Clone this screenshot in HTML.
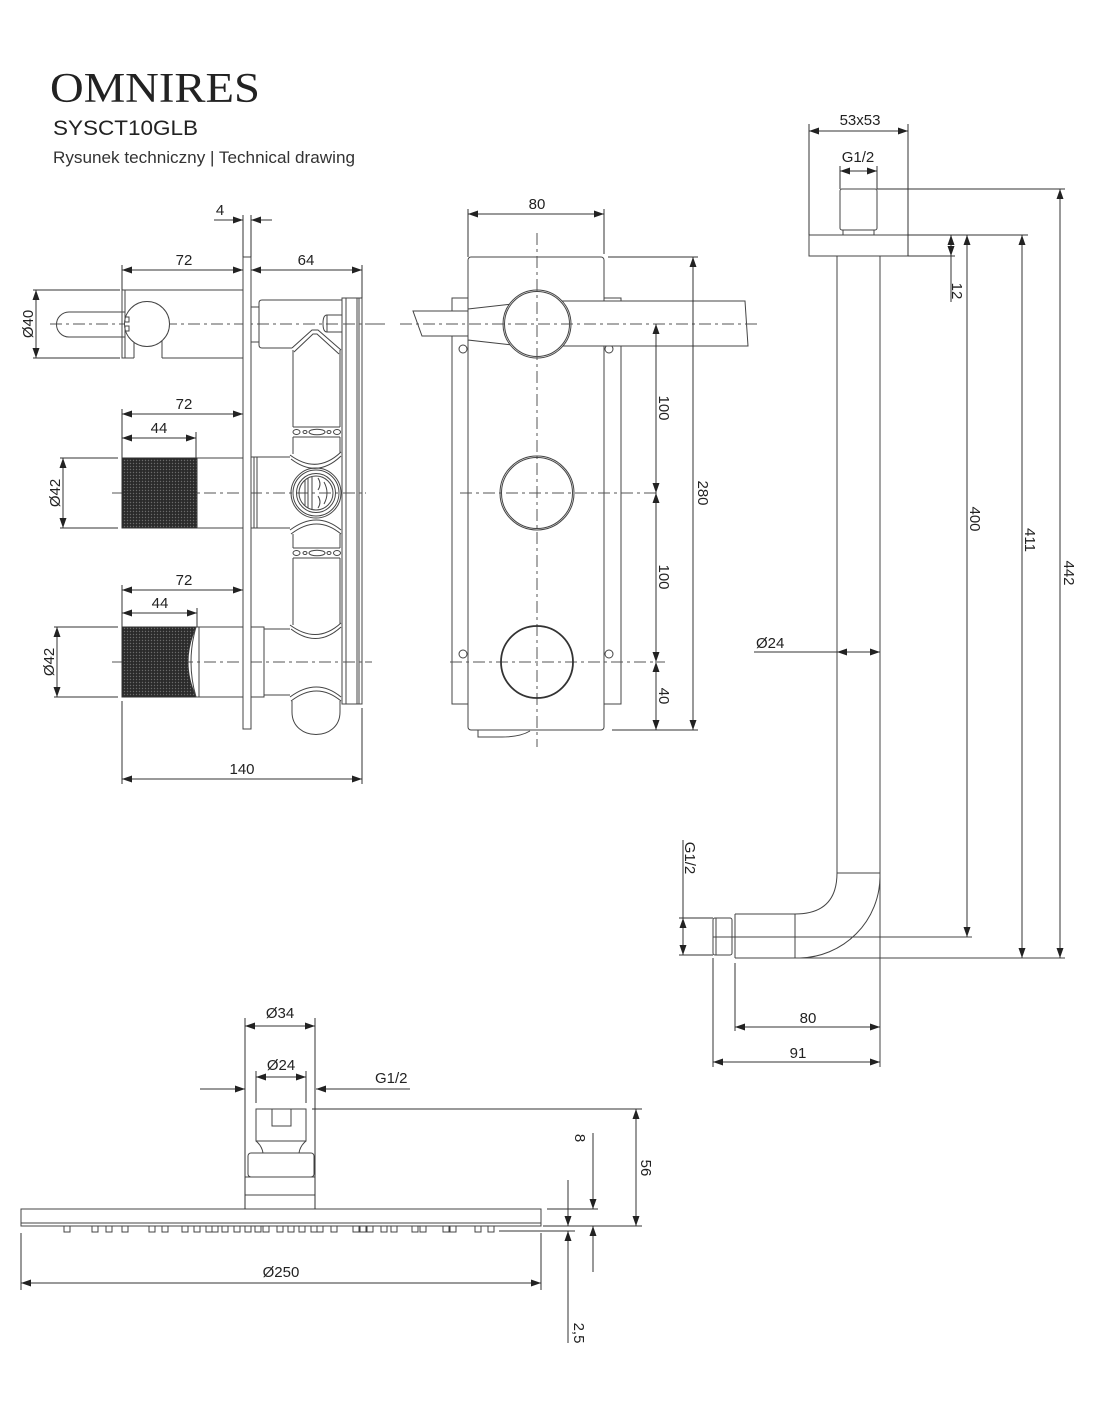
<!DOCTYPE html>
<html><head><meta charset="utf-8">
<style>
html,body{margin:0;padding:0;background:#fff;}
svg{display:block}
text{font-family:"Liberation Sans",sans-serif;fill:#222;font-size:15px;}
</style></head><body>
<svg width="1100" height="1422" viewBox="0 0 1100 1422" xmlns="http://www.w3.org/2000/svg">
<defs>
<marker id="a" viewBox="0 0 10 7" refX="10" refY="3.5" markerWidth="10" markerHeight="7" markerUnits="userSpaceOnUse" orient="auto-start-reverse"><path d="M0,0L10,3.5L0,7z" fill="#222"/></marker>
<pattern id="k" width="3" height="3" patternUnits="userSpaceOnUse"><rect width="3" height="3" fill="#2a2a2a"/><circle cx="1.5" cy="1.5" r="0.7" fill="#6a6a6a"/></pattern>
</defs>
<rect width="1100" height="1422" fill="#fff"/>

<!-- Header -->
<text x="50" y="102" style="font-family:'Liberation Serif',serif;font-size:42px" textLength="210" lengthAdjust="spacingAndGlyphs">OMNIRES</text>
<text x="53" y="135" style="font-size:21px" textLength="145" lengthAdjust="spacingAndGlyphs">SYSCT10GLB</text>
<text x="53" y="163" style="font-size:17px;fill:#333" textLength="302" lengthAdjust="spacingAndGlyphs">Rysunek techniczny | Technical drawing</text>

<!-- ================= SIDE VIEW ================= -->
<g stroke="#444" stroke-width="1" fill="none">
 <!-- centerlines -->
 <g stroke="#555" stroke-dasharray="12,4,3,4">
  <line x1="50" y1="324" x2="385" y2="324"/>
  <line x1="112" y1="493" x2="366" y2="493"/>
  <line x1="112" y1="662" x2="372" y2="662"/>
 </g>

 <!-- top handle -->
 <path d="M243,290 H122 V358 H134 M162,358 H243"/>
 <line x1="125" y1="290" x2="125" y2="358"/>
 <path d="M125,312 H69 A12.5,12.5 0 0 0 69,337 H125"/>
 <circle cx="147" cy="324" r="22.5" fill="#fff"/>
 <line x1="134" y1="342" x2="134" y2="358"/>
 <line x1="162" y1="341" x2="162" y2="358"/>
 <rect x="125" y="317" width="4" height="5"/>
 <rect x="125" y="326" width="4" height="5"/>

 <!-- middle handle -->
 <rect x="122" y="458" width="75" height="70" fill="url(#k)" stroke="#333"/>
 <path d="M197,458 H243 M197,528 H243"/>
 <rect x="251" y="457" width="6" height="71"/>
 <line x1="254" y1="457" x2="254" y2="528"/>
 <path d="M257,457 H290 M257,528 H290"/>

 <!-- bottom handle -->
 <path d="M122,627 H196 Q180,662 196,697 H122 Z" fill="url(#k)" stroke="#333"/>
 <path d="M196,627 Q186,662 196,697"/>
 <line x1="199" y1="627" x2="199" y2="697"/>
 <path d="M196,627 H264 V697 H196"/>
 <path d="M264,629 H290 M264,695 H290"/>

 <!-- wall plate -->
 <rect x="243" y="257" width="8" height="472" fill="#fff"/>

 <!-- body top -->
 <rect x="251" y="307" width="8" height="35"/>
 <path d="M342,300 H262 Q259,300 259,303 V345 Q259,348 262,348 H292"/>
 <path d="M342,315 H327 Q323,315 323,323.5 Q323,332 327,332 H342"/>
 <line x1="327" y1="315" x2="327" y2="332"/>
 <path d="M292,348 L312,330 L318,330 L341,350"/>
 <path d="M294,352 L313,334 L317,334 L339,354"/>
 <!-- tube -->
 <path d="M293,350 V427 M340,350 V427"/>
 <path d="M293,427 H340 M293,437 H340"/>
 <ellipse cx="296.5" cy="432" rx="3.5" ry="2.5"/>
 <ellipse cx="317" cy="432" rx="8" ry="2.8"/>
 <ellipse cx="337" cy="432" rx="3.5" ry="2.5"/>
 <ellipse cx="305" cy="432" rx="2" ry="1.5"/>
 <ellipse cx="329" cy="432" rx="2" ry="1.5"/>
 <path d="M293,437 V454 M340,437 V453"/>
 <path d="M290,455 Q317,475 341,452"/>
 <path d="M291,459 Q317,479 341,456"/>
 <!-- middle valve -->
 <circle cx="316" cy="493" r="25"/>
 <circle cx="316" cy="493" r="23"/>
 <circle cx="316" cy="493" r="19.5"/>
 <circle cx="316" cy="493" r="17"/>
 <path d="M305,480 V506 M308,478 V508 M312,477 V509"/>
 <path d="M318,478 Q322,484 318,490 M318,496 Q322,502 318,508"/>
 <path d="M324,482 Q330,493 324,504"/>
 <!-- arch below middle -->
 <path d="M290,530 Q317,510 341,530"/>
 <path d="M291,534 Q317,514 341,534"/>
 <path d="M293,534 V548 M340,534 V548"/>
 <path d="M293,548 H340 M293,558 H340"/>
 <ellipse cx="296.5" cy="553" rx="3.5" ry="2.5"/>
 <ellipse cx="317" cy="553" rx="8" ry="2.8"/>
 <ellipse cx="337" cy="553" rx="3.5" ry="2.5"/>
 <ellipse cx="305" cy="553" rx="2" ry="1.5"/>
 <ellipse cx="329" cy="553" rx="2" ry="1.5"/>
 <path d="M293,558 V625 M340,558 V624"/>
 <path d="M290,625 Q317,645 341,623"/>
 <path d="M291,629 Q317,649 341,627"/>
 <!-- bottom lobe -->
 <path d="M290,697 Q317,677 341,697"/>
 <path d="M291,701 Q317,681 341,701"/>
 <path d="M292,701 V712 C292,742 340,742 340,712 V701"/>

 <!-- back plate -->
 <rect x="342" y="298" width="20" height="406" fill="#fff"/>
 <path d="M346,298 V704 M357,298 V704 M359,298 V704"/>
 <line x1="343" y1="662" x2="372" y2="662" stroke="#555" stroke-dasharray="12,4,3,4"/>
 <line x1="343" y1="493" x2="366" y2="493" stroke="#555" stroke-dasharray="12,4,3,4"/>
 <line x1="343" y1="324" x2="385" y2="324" stroke="#555" stroke-dasharray="12,4,3,4"/>
</g>

<!-- side view dims -->
<g stroke="#333" stroke-width="1" fill="none">
 <line x1="214" y1="220" x2="243" y2="220" marker-end="url(#a)"/>
 <line x1="272" y1="220" x2="251" y2="220" marker-end="url(#a)"/>
 <line x1="243" y1="215" x2="243" y2="257"/>
 <line x1="251" y1="215" x2="251" y2="257"/>
 <line x1="122" y1="270" x2="243" y2="270" marker-start="url(#a)" marker-end="url(#a)"/>
 <line x1="251" y1="270" x2="362" y2="270" marker-start="url(#a)" marker-end="url(#a)"/>
 <line x1="122" y1="265" x2="122" y2="290"/>
 <line x1="362" y1="265" x2="362" y2="298"/>
 <line x1="36" y1="290" x2="36" y2="358" marker-start="url(#a)" marker-end="url(#a)"/>
 <path d="M33,290 H120 M33,358 H120"/>

 <line x1="122" y1="414" x2="243" y2="414" marker-start="url(#a)" marker-end="url(#a)"/>
 <line x1="122" y1="438" x2="196" y2="438" marker-start="url(#a)" marker-end="url(#a)"/>
 <line x1="122" y1="409" x2="122" y2="458"/>
 <line x1="196" y1="432" x2="196" y2="458"/>
 <line x1="63" y1="458" x2="63" y2="528" marker-start="url(#a)" marker-end="url(#a)"/>
 <path d="M60,458 H118 M60,528 H118"/>

 <line x1="122" y1="590" x2="243" y2="590" marker-start="url(#a)" marker-end="url(#a)"/>
 <line x1="122" y1="613" x2="197" y2="613" marker-start="url(#a)" marker-end="url(#a)"/>
 <line x1="122" y1="585" x2="122" y2="627"/>
 <line x1="197" y1="608" x2="197" y2="627"/>
 <line x1="57" y1="627" x2="57" y2="697" marker-start="url(#a)" marker-end="url(#a)"/>
 <path d="M54,627 H118 M54,697 H118"/>

 <line x1="122" y1="779" x2="362" y2="779" marker-start="url(#a)" marker-end="url(#a)"/>
 <line x1="122" y1="701" x2="122" y2="784"/>
 <line x1="362" y1="708" x2="362" y2="784"/>
</g>
<text x="220" y="215" text-anchor="middle">4</text>
<text x="184" y="265" text-anchor="middle">72</text>
<text x="306" y="265" text-anchor="middle">64</text>
<text transform="translate(33,324) rotate(-90)" text-anchor="middle">Ø40</text>
<text x="184" y="409" text-anchor="middle">72</text>
<text x="159" y="433" text-anchor="middle">44</text>
<text transform="translate(60,493) rotate(-90)" text-anchor="middle">Ø42</text>
<text x="184" y="585" text-anchor="middle">72</text>
<text x="160" y="608" text-anchor="middle">44</text>
<text transform="translate(54,662) rotate(-90)" text-anchor="middle">Ø42</text>
<text x="242" y="774" text-anchor="middle">140</text>

<!-- ================= FRONT VIEW ================= -->
<g stroke="#444" stroke-width="1" fill="none">
 <rect x="452" y="298" width="169" height="406"/>
 <rect x="468" y="257" width="136" height="473" rx="3" fill="#fff"/>
 <path d="M478,730 V737 H502 Q520,737 530,731" />
 <circle cx="463" cy="349" r="4"/>
 <circle cx="609" cy="349" r="4"/>
 <circle cx="463" cy="654" r="4"/>
 <circle cx="609" cy="654" r="4"/>
 <g stroke="#555" stroke-dasharray="12,4,3,4">
  <line x1="537" y1="233" x2="537" y2="747"/>
  <line x1="460" y1="493" x2="660" y2="493"/>
  <line x1="450" y1="662" x2="665" y2="662"/>
 </g>
 <polygon points="413,311 470,311 470,336 422,336" fill="#fff"/>
 <polygon points="468,309 512,304 512,345 468,340" fill="#fff"/>
 <polygon points="560,301 745,301 748,346 560,346" fill="#fff"/>
 <circle cx="537" cy="324" r="34" fill="#fff"/>
 <circle cx="537" cy="324" r="32.5"/>
 <line x1="400" y1="324" x2="760" y2="324" stroke="#555" stroke-dasharray="12,4,3,4"/>
 <line x1="537" y1="233" x2="537" y2="360" stroke="#555" stroke-dasharray="12,4,3,4"/>
 <circle cx="537" cy="493" r="37" fill="none"/>
 <circle cx="537" cy="493" r="35.5"/>
 <circle cx="537" cy="662" r="36" stroke-width="1.8" stroke="#333"/>
</g>
<g stroke="#333" stroke-width="1" fill="none">
 <line x1="468" y1="214" x2="604" y2="214" marker-start="url(#a)" marker-end="url(#a)"/>
 <line x1="468" y1="209" x2="468" y2="257"/>
 <line x1="604" y1="209" x2="604" y2="254"/>
 <line x1="656" y1="324" x2="656" y2="493" marker-start="url(#a)" marker-end="url(#a)"/>
 <line x1="656" y1="493" x2="656" y2="662" marker-start="url(#a)" marker-end="url(#a)"/>
 <line x1="656" y1="662" x2="656" y2="730" marker-start="url(#a)" marker-end="url(#a)"/>
 <line x1="693" y1="257" x2="693" y2="730" marker-start="url(#a)" marker-end="url(#a)"/>
 <path d="M608,257 H698 M612,730 H698"/>
</g>
<text x="537" y="209" text-anchor="middle">80</text>
<text transform="translate(659,408) rotate(90)" text-anchor="middle">100</text>
<text transform="translate(659,577) rotate(90)" text-anchor="middle">100</text>
<text transform="translate(659,696) rotate(90)" text-anchor="middle">40</text>
<text transform="translate(698,493) rotate(90)" text-anchor="middle">280</text>

<!-- ================= PIPE VIEW ================= -->
<g stroke="#444" stroke-width="1" fill="none">
 <rect x="840" y="189" width="37" height="41" rx="2"/>
 <rect x="843" y="230" width="31" height="5"/>
 <rect x="809" y="235" width="99" height="21"/>
 <line x1="837" y1="256" x2="837" y2="873"/>
 <line x1="880" y1="256" x2="880" y2="1067"/>
 <line x1="837" y1="873" x2="880" y2="873"/>
 <path d="M837,873 Q837,914 795,914"/>
 <path d="M880,877 A82,82 0 0 1 800,958"/>
 <path d="M735,914 H795 V958 M735,914 V958 M735,958 H1065"/>
 <rect x="713" y="918" width="19" height="37" rx="2"/>
 <line x1="716" y1="918" x2="716" y2="955"/>
 <line x1="713" y1="937" x2="972" y2="937" stroke="#444"/>
</g>
<g stroke="#333" stroke-width="1" fill="none">
 <line x1="809" y1="131" x2="908" y2="131" marker-start="url(#a)" marker-end="url(#a)"/>
 <line x1="809" y1="124" x2="809" y2="235"/>
 <line x1="908" y1="124" x2="908" y2="256"/>
 <line x1="840" y1="171" x2="877" y2="171" marker-start="url(#a)" marker-end="url(#a)"/>
 <line x1="840" y1="166" x2="840" y2="189"/>
 <line x1="877" y1="166" x2="877" y2="189"/>
 <path d="M877,189 H1065 M908,235 H1028 M908,256 H955"/>
 <line x1="951" y1="235" x2="951" y2="256" marker-start="url(#a)" marker-end="url(#a)"/>
 <line x1="951" y1="256" x2="951" y2="302"/>
 <line x1="967" y1="235" x2="967" y2="937" marker-start="url(#a)" marker-end="url(#a)"/>
 <line x1="1022" y1="235" x2="1022" y2="958" marker-start="url(#a)" marker-end="url(#a)"/>
 <line x1="1060" y1="189" x2="1060" y2="958" marker-start="url(#a)" marker-end="url(#a)"/>
 <line x1="754" y1="652" x2="880" y2="652"/>
 <line x1="850" y1="652" x2="837" y2="652" marker-end="url(#a)"/>
 <line x1="866" y1="652" x2="880" y2="652" marker-end="url(#a)"/>
 <line x1="683" y1="840" x2="683" y2="918"/>
 <line x1="683" y1="918" x2="683" y2="955" marker-start="url(#a)" marker-end="url(#a)"/>
 <path d="M679,918 H713 M679,955 H713"/>
 <line x1="735" y1="1027" x2="880" y2="1027" marker-start="url(#a)" marker-end="url(#a)"/>
 <line x1="735" y1="963" x2="735" y2="1031"/>
 <line x1="713" y1="1062" x2="880" y2="1062" marker-start="url(#a)" marker-end="url(#a)"/>
 <line x1="713" y1="958" x2="713" y2="1067"/>
</g>
<text x="860" y="125" text-anchor="middle">53x53</text>
<text x="858" y="162" text-anchor="middle">G1/2</text>
<text transform="translate(952,291) rotate(90)" text-anchor="middle">12</text>
<text transform="translate(970,519) rotate(90)" text-anchor="middle">400</text>
<text transform="translate(1025,540) rotate(90)" text-anchor="middle">411</text>
<text transform="translate(1064,573) rotate(90)" text-anchor="middle">442</text>
<text x="756" y="648">Ø24</text>
<text transform="translate(685,858) rotate(90)" text-anchor="middle">G1/2</text>
<text x="808" y="1023" text-anchor="middle">80</text>
<text x="798" y="1058" text-anchor="middle">91</text>

<!-- ================= SHOWER HEAD ================= -->
<g stroke="#444" stroke-width="1" fill="none">
 <rect x="256" y="1109" width="50" height="32"/>
 <rect x="272" y="1109" width="19" height="17"/>
 <path d="M256,1141 Q262,1146 263,1153 M306,1141 Q300,1146 299,1153"/>
 <rect x="248" y="1153" width="66" height="24" rx="3"/>
 <path d="M245,1177 H315 M245,1195 H315"/>
 <rect x="21" y="1209" width="520" height="17"/>
 <line x1="21" y1="1223" x2="541" y2="1223"/>
 <g>
  <rect x="64" y="1226" width="6" height="6"/><rect x="92" y="1226" width="6" height="6"/>
  <rect x="106" y="1226" width="6" height="6"/><rect x="122" y="1226" width="6" height="6"/>
  <rect x="149" y="1226" width="6" height="6"/><rect x="162" y="1226" width="6" height="6"/>
  <rect x="182" y="1226" width="6" height="6"/><rect x="194" y="1226" width="6" height="6"/>
  <rect x="206" y="1226" width="6" height="6"/><rect x="212" y="1226" width="6" height="6"/>
  <rect x="222" y="1226" width="6" height="6"/><rect x="234" y="1226" width="6" height="6"/>
  <rect x="245" y="1226" width="6" height="6"/><rect x="255" y="1226" width="6" height="6"/>
  <rect x="263" y="1226" width="6" height="6"/><rect x="277" y="1226" width="6" height="6"/>
  <rect x="288" y="1226" width="6" height="6"/><rect x="299" y="1226" width="6" height="6"/>
  <rect x="311" y="1226" width="6" height="6"/><rect x="317" y="1226" width="6" height="6"/>
  <rect x="331" y="1226" width="6" height="6"/><rect x="353" y="1226" width="6" height="6"/>
  <rect x="360" y="1226" width="6" height="6"/><rect x="367" y="1226" width="6" height="6"/>
  <rect x="381" y="1226" width="6" height="6"/><rect x="391" y="1226" width="6" height="6"/>
  <rect x="412" y="1226" width="6" height="6"/><rect x="420" y="1226" width="6" height="6"/>
  <rect x="443" y="1226" width="6" height="6"/><rect x="450" y="1226" width="6" height="6"/>
  <rect x="475" y="1226" width="6" height="6"/><rect x="488" y="1226" width="6" height="6"/>
 </g>
</g>
<g stroke="#333" stroke-width="1" fill="none">
 <line x1="245" y1="1026" x2="315" y2="1026" marker-start="url(#a)" marker-end="url(#a)"/>
 <line x1="245" y1="1018" x2="245" y2="1209"/>
 <line x1="315" y1="1018" x2="315" y2="1209"/>
 <line x1="256" y1="1077" x2="306" y2="1077" marker-start="url(#a)" marker-end="url(#a)"/>
 <line x1="256" y1="1071" x2="256" y2="1103"/>
 <line x1="306" y1="1071" x2="306" y2="1103"/>
 <line x1="200" y1="1089" x2="245" y2="1089" marker-end="url(#a)"/>
 <line x1="410" y1="1089" x2="316" y2="1089" marker-end="url(#a)"/>
 <line x1="312" y1="1109" x2="642" y2="1109"/>
 <path d="M547,1209 H598 M543,1226 H642 M499,1231 H575"/>
 <line x1="636" y1="1109" x2="636" y2="1226" marker-start="url(#a)" marker-end="url(#a)"/>
 <line x1="593" y1="1133" x2="593" y2="1209" marker-end="url(#a)"/>
 <line x1="593" y1="1272" x2="593" y2="1226" marker-end="url(#a)"/>
 <line x1="568" y1="1180" x2="568" y2="1226" marker-end="url(#a)"/>
 <line x1="568" y1="1343" x2="568" y2="1231" marker-end="url(#a)"/>
 <line x1="21" y1="1283" x2="541" y2="1283" marker-start="url(#a)" marker-end="url(#a)"/>
 <line x1="21" y1="1233" x2="21" y2="1290"/>
 <line x1="541" y1="1233" x2="541" y2="1290"/>
</g>
<text x="280" y="1018" text-anchor="middle">Ø34</text>
<text x="281" y="1070" text-anchor="middle">Ø24</text>
<text x="375" y="1083">G1/2</text>
<text transform="translate(575,1138) rotate(90)" text-anchor="middle">8</text>
<text transform="translate(641,1168) rotate(90)" text-anchor="middle">56</text>
<text transform="translate(574,1333) rotate(90)" text-anchor="middle">2,5</text>
<text x="281" y="1277" text-anchor="middle">Ø250</text>
</svg>
</body></html>
